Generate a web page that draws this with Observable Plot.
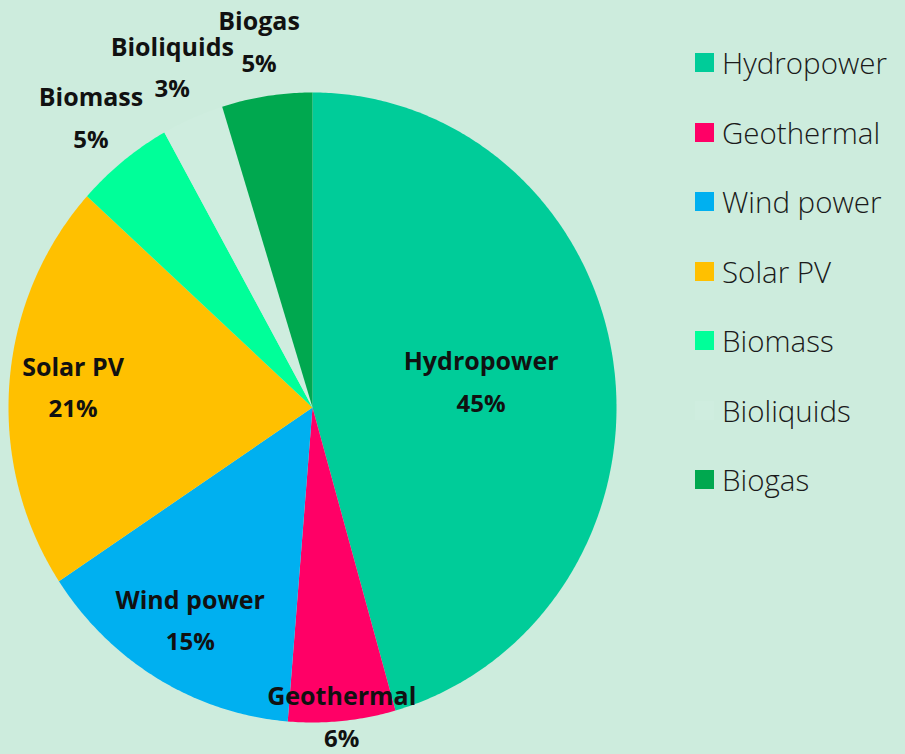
<!DOCTYPE html>
<html>
<head>
<meta charset="utf-8">
<script src="https://cdn.jsdelivr.net/npm/d3@7"></script>
<script src="https://cdn.jsdelivr.net/npm/@observablehq/plot@0.6"></script>
<style>
  html, body { margin: 0; padding: 0; background: #cdecdd; }
  #wrap { position: relative; width: 905px; height: 754px; overflow: hidden; }
  #legend { position: absolute; left: 695px; top: 28px; font-family: "Open Sans", sans-serif; font-weight: 300; font-size: 29.5px; color: #1a1a1a; }
  .row { height: 69.5px; display: flex; align-items: center; }
  .sw { width: 19px; height: 19px; margin-right: 8px; flex: none; }
</style>
</head>
<body>
<div id="wrap"><div id="chart"></div><div id="legend"></div></div>
<script>
const names = ["Hydropower", "Geothermal", "Wind power", "Solar PV", "Biomass", "Bioliquids", "Biogas"];
const shares = [45.6, 5.7, 14.4, 21.0, 5.2, 3.3, 4.8];
const percentLabels = ["45%", "6%", "15%", "21%", "5%", "3%", "5%"];
const colors = ["#00cc99", "#ff0066", "#00b0f0", "#ffc000", "#00ff99", "#cfeddf", "#00a84f"];

const total = d3.sum(shares);
let cum = 0;
const slices = names.map((name, i) => {
  const a0 = cum / total * 2 * Math.PI;
  cum += shares[i];
  const a1 = cum / total * 2 * Math.PI;
  return {name, share: shares[i], pct: percentLabels[i], a0, a1};
});

// polygon points for each slice (unit circle, angle clockwise from top)
const pts = [];
for (const s of slices) {
  pts.push({name: s.name, x: 0, y: 0});
  const n = Math.max(2, Math.ceil((s.a1 - s.a0) / (Math.PI / 360)));
  for (let k = 0; k <= n; k++) {
    const a = s.a0 + (s.a1 - s.a0) * k / n;
    pts.push({name: s.name, x: Math.sin(a), y: Math.cos(a)});
  }
}

function labelRadius(share) {
  return share >= 30 ? 0.56 : share >= 10 ? 0.79 : share >= 5.5 ? 0.99 : 1.17;
}
const labels = slices.map(s => {
  const m = (s.a0 + s.a1) / 2, r = labelRadius(s.share);
  return {name: s.name, pct: s.pct, x: Math.sin(m) * r, y: Math.cos(m) * r};
});

const font = "'Open Sans', sans-serif";
const chart = Plot.plot({
  width: 905,
  height: 754,
  margin: 0,
  x: {domain: [-1, 1], range: [8, 616], axis: null},
  y: {domain: [-1, 1], range: [722, 92], axis: null},
  color: {domain: names, range: colors},
  style: {background: "transparent", fontFamily: font},
  marks: [
    Plot.line(pts, {x: "x", y: "y", z: "name", fill: "name", stroke: "none", curve: "linear-closed"}),
    Plot.text(labels, {x: "x", y: "y", text: "name", dy: -21, fontSize: 25, fontWeight: "bold", fill: "#111", fontFamily: font}),
    Plot.text(labels, {x: "x", y: "y", text: "pct", dy: 21, fontSize: 24, fontWeight: "bold", fill: "#111", fontFamily: font})
  ]
});
document.getElementById("chart").appendChild(chart);

const legend = document.getElementById("legend");
names.forEach((n, i) => {
  const row = document.createElement("div");
  row.className = "row";
  const sw = document.createElement("div");
  sw.className = "sw";
  sw.style.background = colors[i];
  const t = document.createElement("span");
  t.textContent = n;
  row.appendChild(sw);
  row.appendChild(t);
  legend.appendChild(row);
});
</script>
</body>
</html>
